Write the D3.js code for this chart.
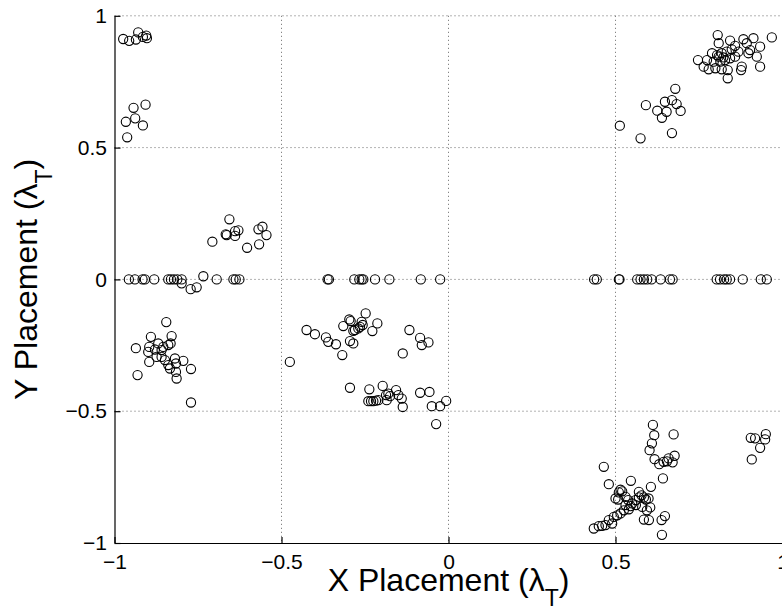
<!DOCTYPE html>
<html>
<head>
<meta charset="utf-8">
<script src="https://cdn.jsdelivr.net/npm/d3@7"></script>
<style>
  body { margin: 0; background: #fff; }
  svg { display: block; font-family: "Liberation Sans", Arial, sans-serif; }
</style>
</head>
<body>
<div id="wrapper"></div>
<script>
// Data: [x, y] placements, grouped by region
const topLeft = [[-0.974,0.912],[-0.956,0.905],[-0.936,0.910],[-0.929,0.937],[-0.915,0.920],[-0.905,0.925],[-0.903,0.915],
  [-0.907,0.663],[-0.943,0.651],[-0.938,0.611],[-0.966,0.598],[-0.915,0.584],[-0.962,0.539]];
const topRight = [[0.806,0.927],[0.809,0.896],[0.843,0.906],[0.883,0.911],[0.893,0.896],[0.913,0.915],[0.968,0.918],
  [0.933,0.883],[0.903,0.870],[0.898,0.858],[0.923,0.845],[0.933,0.807],[0.878,0.807],[0.876,0.794],[0.836,0.763],
  [0.747,0.832],[0.774,0.832],[0.764,0.807],[0.789,0.858],[0.804,0.851],[0.818,0.858],[0.833,0.864],[0.848,0.873],
  [0.858,0.886],[0.868,0.864],[0.794,0.826],[0.814,0.826],[0.828,0.832],[0.843,0.839],[0.858,0.845],[0.799,0.801],
  [0.818,0.797],[0.836,0.794],[0.779,0.797],[0.809,0.845],[0.823,0.842],
  [0.679,0.723],[0.591,0.661],[0.648,0.674],[0.669,0.680],[0.683,0.665],[0.695,0.639],[0.625,0.640],[0.653,0.636],
  [0.639,0.613],[0.513,0.583],[0.575,0.535],[0.669,0.555]];
const midLeft = [[-0.656,0.228],[-0.707,0.143],[-0.664,0.168],[-0.667,0.171],[-0.639,0.183],[-0.629,0.186],[-0.639,0.165],
  [-0.603,0.120],[-0.567,0.133],[-0.569,0.190],[-0.557,0.200],[-0.545,0.168],
  [-0.734,0.012],[-0.799,-0.015],[-0.772,-0.037],[-0.754,-0.030]];
const zeroRowX = [-0.957,-0.939,-0.916,-0.909,-0.881,-0.839,-0.831,-0.822,-0.812,-0.799,-0.694,-0.644,-0.637,-0.626,
  -0.362,-0.358,-0.282,-0.267,-0.260,-0.255,-0.220,-0.177,-0.083,-0.025,
  0.436,0.444,0.510,0.512,0.565,0.575,0.585,0.595,0.608,0.635,0.663,0.671,
  0.803,0.813,0.825,0.833,0.843,0.881,0.935,0.953];
const bottomLeft = [[-0.845,-0.162],[-0.891,-0.218],[-0.936,-0.261],[-0.931,-0.363],[-0.896,-0.256],[-0.899,-0.275],
  [-0.896,-0.313],[-0.869,-0.243],[-0.879,-0.266],[-0.859,-0.268],[-0.854,-0.256],[-0.839,-0.249],[-0.829,-0.215],
  [-0.832,-0.243],[-0.874,-0.294],[-0.859,-0.294],[-0.849,-0.306],[-0.839,-0.325],[-0.834,-0.338],[-0.819,-0.300],
  [-0.816,-0.319],[-0.794,-0.309],[-0.816,-0.351],[-0.814,-0.376],[-0.771,-0.340],[-0.771,-0.467]];
const bottomMid = [[-0.475,-0.313],[-0.248,-0.129],[-0.297,-0.152],[-0.293,-0.158],[-0.315,-0.177],[-0.260,-0.161],
  [-0.257,-0.173],[-0.265,-0.180],[-0.270,-0.186],[-0.280,-0.192],[-0.285,-0.195],[-0.213,-0.167],[-0.228,-0.196],
  [-0.425,-0.192],[-0.400,-0.208],[-0.367,-0.220],[-0.360,-0.237],[-0.337,-0.246],[-0.318,-0.287],[-0.295,-0.234],
  [-0.285,-0.243],[-0.117,-0.192],[-0.085,-0.222],[-0.080,-0.249],[-0.060,-0.239],[-0.137,-0.281],
  [-0.295,-0.411],[-0.237,-0.417],[-0.197,-0.404],[-0.240,-0.462],[-0.232,-0.462],[-0.225,-0.462],[-0.217,-0.460],
  [-0.210,-0.458],[-0.187,-0.439],[-0.180,-0.433],[-0.175,-0.443],[-0.185,-0.458],[-0.157,-0.420],[-0.150,-0.439],
  [-0.140,-0.452],[-0.137,-0.484],[-0.085,-0.430],[-0.057,-0.427],[-0.050,-0.481],[-0.025,-0.481],[-0.007,-0.461],
  [-0.037,-0.549]];
const bottomRight = [[0.612,-0.552],[0.616,-0.591],[0.609,-0.622],[0.602,-0.648],[0.674,-0.588],[0.617,-0.682],
  [0.631,-0.701],[0.644,-0.692],[0.659,-0.679],[0.677,-0.669],[0.671,-0.694],[0.654,-0.690],[0.642,-0.755],
  [0.465,-0.711],[0.480,-0.777],[0.546,-0.764],[0.606,-0.787],[0.515,-0.798],[0.520,-0.804],[0.510,-0.808],
  [0.500,-0.831],[0.508,-0.835],[0.530,-0.825],[0.538,-0.837],[0.570,-0.806],[0.578,-0.819],[0.585,-0.827],
  [0.570,-0.827],[0.560,-0.837],[0.591,-0.835],[0.599,-0.831],[0.530,-0.856],[0.545,-0.860],[0.550,-0.850],
  [0.561,-0.856],[0.580,-0.863],[0.604,-0.865],[0.594,-0.876],[0.540,-0.872],[0.525,-0.876],[0.515,-0.888],
  [0.505,-0.895],[0.495,-0.901],[0.480,-0.913],[0.490,-0.926],[0.470,-0.932],[0.460,-0.935],[0.450,-0.936],
  [0.435,-0.945],[0.585,-0.911],[0.600,-0.913],[0.638,-0.913],[0.648,-0.898],[0.639,-0.969],
  [0.905,-0.601],[0.918,-0.603],[0.950,-0.587],[0.948,-0.607],[0.933,-0.639],[0.908,-0.683]];
const tickValues = [-1, -0.5, 0, 0.5, 1];

function drawScatter(){
// Dimension
const dimension = {
    width: 782, height: 609,
    margin: {top: 15.8, bottom: 66, left: 114.5, right: -0.5}
};
dimension.boundedWidth = dimension.width - dimension.margin.left - dimension.margin.right;
dimension.boundedHeight = dimension.height - dimension.margin.top - dimension.margin.bottom;

const dataset = [].concat(topLeft, topRight, midLeft, zeroRowX.map(x => [x, 0]),
    bottomLeft, bottomMid, bottomRight);

// Scales
const xScale = d3.scaleLinear().domain([-1, 1]).range([0, dimension.boundedWidth]);
const yScale = d3.scaleLinear().domain([-1, 1]).range([dimension.boundedHeight, 0]);

// Canvas
const wrapper = d3.select("#wrapper").append("svg")
    .attr("width", dimension.width).attr("height", dimension.height);
const bounded = wrapper.append("g")
    .attr("transform", `translate(${dimension.margin.left},${dimension.margin.top})`);

// Grid (dotted)
const grid = bounded.append("g").attr("stroke", "#666").attr("stroke-width", 1)
    .attr("stroke-dasharray", "1,3");
grid.selectAll(".gx").data(tickValues.slice(1)).enter().append("line")
    .attr("x1", d => xScale(d)).attr("x2", d => xScale(d))
    .attr("y1", 0).attr("y2", dimension.boundedHeight);
grid.selectAll(".gy").data(tickValues.slice(1)).enter().append("line")
    .attr("y1", d => yScale(d)).attr("y2", d => yScale(d))
    .attr("x1", 0).attr("x2", dimension.boundedWidth);

// Points
bounded.append("g").selectAll("circle").data(dataset).enter().append("circle")
    .attr("cx", d => xScale(d[0])).attr("cy", d => yScale(d[1]))
    .attr("r", 4.6).attr("fill", "none").attr("stroke", "#000").attr("stroke-width", 1.1);

// Axes
const fmt = d3.format("");
const xAxis = bounded.append("g")
    .attr("transform", `translate(0,${dimension.boundedHeight})`)
    .call(d3.axisBottom(xScale).tickValues(tickValues).tickFormat(fmt)
        .tickSizeInner(-6).tickSizeOuter(0).tickPadding(11));
const yAxis = bounded.append("g")
    .call(d3.axisLeft(yScale).tickValues(tickValues).tickFormat(fmt)
        .tickSizeInner(-6).tickSizeOuter(0).tickPadding(7));
[xAxis, yAxis].forEach(ax => {
    ax.selectAll("path, line").attr("stroke", "#000").attr("stroke-width", 1.2);
    ax.selectAll("text").attr("font-size", "21px").attr("fill", "#000")
        .attr("font-family", "Liberation Sans, Arial, sans-serif");
});
yAxis.selectAll(".tick text").attr("x", -7.5);

// Labels
const xLabel = wrapper.append("text")
    .attr("x", dimension.margin.left + xScale(0)).attr("y", 591)
    .attr("text-anchor", "middle").attr("font-size", "32px");
xLabel.append("tspan").text("X Placement (λ");
xLabel.append("tspan").text("T").attr("font-size", "23px").attr("dy", 15);
xLabel.append("tspan").text(")").attr("dy", -15);

const yLabel = wrapper.append("text")
    .attr("transform", `translate(37,${dimension.margin.top + yScale(0)}) rotate(-90)`)
    .attr("text-anchor", "middle").attr("font-size", "32px");
yLabel.append("tspan").text("Y Placement (λ");
yLabel.append("tspan").text("T").attr("font-size", "23px").attr("dy", 15);
yLabel.append("tspan").text(")").attr("dy", -15);
}

drawScatter();
</script>
</body>
</html>
